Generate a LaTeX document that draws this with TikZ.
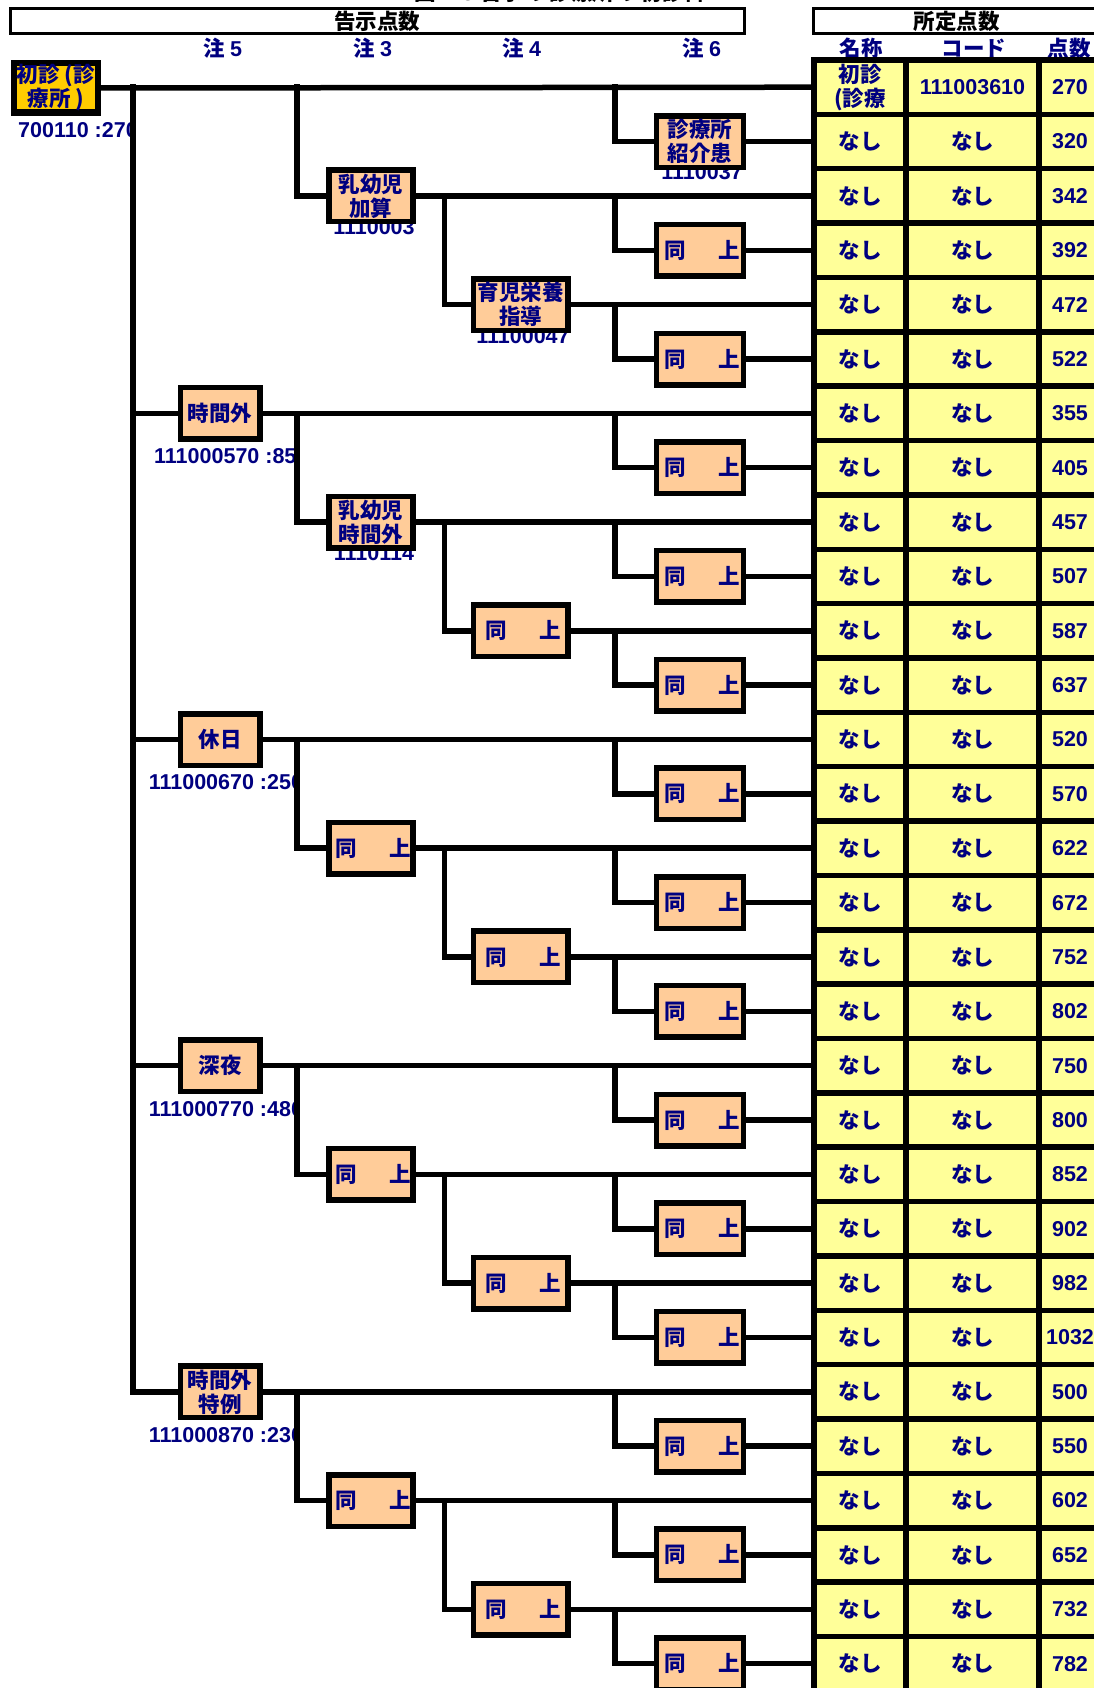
\documentclass[tikz,border=0pt]{standalone}
\usepackage{fontspec}
\setmainfont{Liberation Sans}
\newfontfamily\jp{Noto Sans CJK JP}
\definecolor{navy}{RGB}{0,0,128}
\definecolor{peach}{RGB}{255,204,153}
\definecolor{gold}{RGB}{255,204,0}
\definecolor{lyellow}{RGB}{255,255,153}
\newcommand\rowy[1]{87.2+54.36*(#1-1)}
\newcommand\sameup{\hspace{5pt}\makebox[75pt]{同\hfill 上}}
\tikzset{
  fs/.style={font=\bfseries\fontsize{21.5}{24}\selectfont},
  jfs/.style={font=\jp\bfseries\fontsize{21.5}{24}\selectfont},
  tbox/.style={jfs, draw=black, line width=5.5pt, fill=peach, text=navy, inner sep=0pt, minimum height=51.5pt, align=center},
  c5/.style={tbox, minimum width=79.5pt},
  c3/.style={tbox, minimum width=84.1pt},
  c4/.style={tbox, minimum width=94.5pt},
  c6/.style={tbox, minimum width=86.9pt},
  cell/.style={draw=black, line width=5.5pt, fill=lyellow, text=navy, inner sep=0pt, minimum height=54.36pt, align=center},
  ca/.style={cell, jfs, minimum width=92pt},
  cb/.style={cell, jfs, minimum width=133pt},
  cc/.style={cell, fs, minimum width=62pt},
  code/.style={fs, text=navy, inner sep=0pt},
  hdr/.style={jfs, text=navy, inner sep=0pt},
  hdrbox/.style={jfs, draw=black, line width=3pt, inner sep=0pt, minimum height=24.5pt, text=black},
  conn/.style={line width=5.5pt, line cap=rect, line join=miter},
}
\begin{document}
\begin{tikzpicture}[x=1pt,y=-1pt]
\useasboundingbox (0,0) rectangle (1094,1688);
\fill[white] (0,0) rectangle (1094,1688);

% title (cut off at the top)
\node[jfs, anchor=base, inner sep=0pt] (title) at (560,0.8) {図 1-3 告示の 診療所の 初診料};

% header boxes
\node[hdrbox, minimum width=734.5pt] (kokuji) at (377.25,21.25) {告示点数};
\node[hdrbox, minimum width=286.5pt] (shotei) at (956.75,21.25) {所定点数};

% column headers
\node[hdr] (h5) at (223,48.5) {注 {\rmfamily 5}};
\node[hdr] (h3) at (373,48.5) {注 {\rmfamily 3}};
\node[hdr] (h4) at (522,48.5) {注 {\rmfamily 4}};
\node[hdr] (h6) at (702,48.5) {注 {\rmfamily 6}};
\node[hdr] (hname) at (861,48.5) {名称};
\node[hdr] (hcode) at (974,48.5) {コード};
\node[hdr] (hpts) at (1069,48.5) {点数};

% code labels (drawn beneath boxes, clipped at the lines)
\begin{scope}
\clip (0,110) rectangle (133,150);
\node[code, anchor=west] (l1) at (18,{\rowy{1}+43}) {700110 :270};
\end{scope}
\begin{scope}
\clip (0,{\rowy{7}+25}) rectangle (297,{\rowy{7}+60});
\node[code, anchor=west] (l7) at (154,{\rowy{7}+43}) {111000570 :85};
\end{scope}
\begin{scope}
\clip (0,{\rowy{13}+25}) rectangle (297,{\rowy{13}+60});
\node[code, anchor=west] (l13) at (148.6,{\rowy{13}+43}) {111000670 :250};
\end{scope}
\begin{scope}
\clip (0,{\rowy{19}+25}) rectangle (297,{\rowy{19}+60});
\node[code, anchor=west] (l19) at (148.6,{\rowy{19}+43}) {111000770 :480};
\end{scope}
\begin{scope}
\clip (0,{\rowy{25}+25}) rectangle (297,{\rowy{25}+60});
\node[code, anchor=west] (l25) at (148.6,{\rowy{25}+43}) {111000870 :230};
\end{scope}
\node[code] (l2) at (702,{\rowy{2}+31}) {1110037};
\node[code] (l3) at (374,{\rowy{3}+31}) {1110003};
\node[code] (l5) at (523,{\rowy{5}+31}) {11100047};
\node[code] (l9) at (374,{\rowy{9}+31}) {1110114};

% tree boxes
\node[tbox, fill=gold, line width=6.5pt, minimum width=83.7pt, minimum height=49.5pt] (b1) at (55.9,88) {初診 (診\\療所 )};
\node[c6] (b2) at (699.8,{\rowy{2}}) {診療所\\紹介患};
\foreach \i in {4,6,...,30} \node[c6] (b\i) at (699.8,{\rowy{\i}}) {\sameup};
\node[c3] (b3) at (370.8,{\rowy{3}}) {乳幼児\\加算};
\node[c3] (b9) at (370.8,{\rowy{9}}) {乳幼児\\時間外};
\foreach \i in {15,21,27} \node[c3] (b\i) at (370.8,{\rowy{\i}}) {\sameup};
\node[c4] (b5) at (520.65,{\rowy{5}}) {育児栄養\\指導};
\foreach \i in {11,17,23,29} \node[c4] (b\i) at (520.65,{\rowy{\i}}) {\sameup};
\node[c5] (b7) at (220.2,{\rowy{7}}) {時間外};
\node[c5] (b13) at (220.2,{\rowy{13}}) {休日};
\node[c5] (b19) at (220.2,{\rowy{19}}) {深夜};
\node[c5] (b25) at (220.2,{\rowy{25}}) {時間外\\特例};

% table
\node[ca] (n1) at (860,{\rowy{1}}) {初診\\(診療};
\node[cb] (c1) at (972.5,{\rowy{1}}) {\rmfamily 111003610};
\node[cc] (p1) at (1070,{\rowy{1}}) {270};
\foreach \i/\p in {2/320,3/342,4/392,5/472,6/522,7/355,8/405,9/457,10/507,11/587,12/637,13/520,14/570,15/622,16/672,17/752,18/802,19/750,20/800,21/852,22/902,23/982,24/1032,25/500,26/550,27/602,28/652,29/732,30/782} {
  \node[ca] (n\i) at (860,{\rowy{\i}}) {なし};
  \node[cb] (c\i) at (972.5,{\rowy{\i}}) {なし};
  \node[cc] (p\i) at (1070,{\rowy{\i}}) {\p};
}

% connectors: each box to its table row
\foreach \i in {1,...,30} \draw[conn] (b\i.east) -- (n\i.west);

% trunk (注5)
\coordinate (t0) at (133,{\rowy{1}});
\foreach \r in {7,13,19,25} \draw[conn] (t0) |- (b\r.west);

% 注3 branches
\foreach \r/\s in {1/3,7/9,13/15,19/21,25/27} {
  \coordinate (u\r) at (297,{\rowy{\r}});
  \draw[conn] (u\r) |- (b\s.west);
}
% 注4 branches
\foreach \r/\s in {3/5,9/11,15/17,21/23,27/29} {
  \coordinate (v\r) at (444.7,{\rowy{\r}});
  \draw[conn] (v\r) |- (b\s.west);
}
% 注6 branches
\foreach \r/\s in {1/2,3/4,5/6,7/8,9/10,11/12,13/14,15/16,17/18,19/20,21/22,23/24,25/26,27/28,29/30} {
  \coordinate (w\r) at (615,{\rowy{\r}});
  \draw[conn] (w\r) |- (b\s.west);
}
\end{tikzpicture}
\end{document}
